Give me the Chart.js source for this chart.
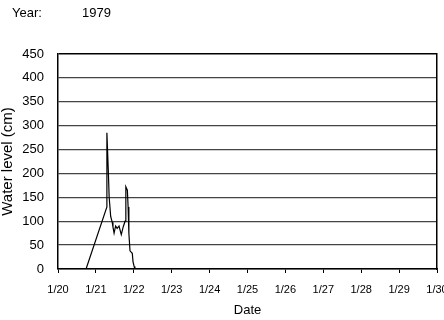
<!DOCTYPE html>
<html>
<head>
<meta charset="utf-8">
<script src="https://cdn.jsdelivr.net/npm/chart.js@4"></script>
<style>
  html, body { margin: 0; padding: 0; background: #fff; overflow: hidden; }
  #wrap { position: relative; width: 444px; height: 320px; }
  canvas { position: absolute; left: 0; top: 0; }
  .hdr { position: absolute; top: 5px; font-family: "Liberation Sans", Arial, sans-serif; font-size: 13px; color: #000; }
</style>
</head>
<body>
<div id="wrap">
  <canvas id="c" width="444" height="320"></canvas>
  <div class="hdr" style="left:12px">Year:</div>
  <div class="hdr" style="left:82px">1979</div>
</div>
<script>
// Time in days since 1/20 00:00, water level in cm
const timeDays = [0.74, 1.29, 1.29, 1.33, 1.35, 1.39, 1.43, 1.45, 1.48, 1.52, 1.56, 1.61, 1.67, 1.72, 1.77, 1.79, 1.83, 1.85, 1.87, 1.90, 1.96, 1.98, 2.01, 2.03];
const levels   = [0,    130,  285,  200,  150,  110,  98,   88,   75,   90,   85,   90,   72,   88,   100,  172,  165,  130,  75,   38,   33,   15,   5,    0];
const dateLabels = ["1/20","1/21","1/22","1/23","1/24","1/25","1/26","1/27","1/28","1/29","1/30"];
const yTicks = [0, 50, 100, 150, 200, 250, 300, 350, 400, 450];

const pts = timeDays.map((t, i) => ({ x: t, y: levels[i] }));
const FONT = "'Liberation Sans', Arial, sans-serif";

new Chart(document.getElementById('c'), {
  type: 'line',
  data: {
    datasets: [{
      data: pts,
      borderColor: '#000',
      borderWidth: 1.2,
      pointRadius: 0,
      tension: 0,
      fill: false
    }]
  },
  options: {
    responsive: false,
    animation: false,
    events: [],
    plugins: { legend: { display: false }, tooltip: { enabled: false } },
    layout: { padding: { left: 0, right: 7, top: 54, bottom: 0 } },
    scales: {
      x: {
        type: 'linear',
        min: 0, max: 10,
        afterBuildTicks: s => { s.ticks = dateLabels.map((_, i) => ({ value: i })); },
        ticks: {
          callback: (v) => dateLabels[Math.round(v)],
          font: { family: FONT, size: 11 },
          color: '#000',
          maxRotation: 0, autoSkip: false,
          padding: 10
        },
        grid: { drawOnChartArea: false, drawTicks: true, tickLength: 4, color: '#000', lineWidth: 1 },
        border: { color: '#000', width: 1.5 },
        title: { display: true, text: 'Date', font: { family: FONT, size: 13 }, color: '#000', padding: { top: 0, bottom: 2 } },
        afterFit: s => { s.height = 51; s.paddingLeft = 0; s.paddingRight = 0; }
      },
      y: {
        min: 0, max: 450,
        afterBuildTicks: s => { s.ticks = yTicks.map(v => ({ value: v })); },
        ticks: {
          font: { family: FONT, size: 13 },
          color: '#000',
          padding: 14
        },
        grid: {
          drawTicks: false,
          color: ctx => (ctx.tick && ctx.tick.value === 450) ? '#000' : '#444',
          lineWidth: ctx => (ctx.tick && ctx.tick.value === 450) ? 1.5 : 1.3
        },
        border: { color: '#000', width: 1.5 },
        title: { display: true, text: 'Water level (cm)', font: { family: FONT, size: 15 }, color: '#000', padding: { top: -1, bottom: 0 } },
        afterFit: s => { s.width = 58; s.paddingTop = 0; s.paddingBottom = 0; }
      },
      y2: {
        position: 'right',
        min: 0, max: 450,
        ticks: { display: false },
        grid: { drawOnChartArea: false, drawTicks: false },
        border: { color: '#000', width: 1.5 },
        afterFit: s => { s.width = 0; }
      }
    }
  }
});
</script>
</body>
</html>
